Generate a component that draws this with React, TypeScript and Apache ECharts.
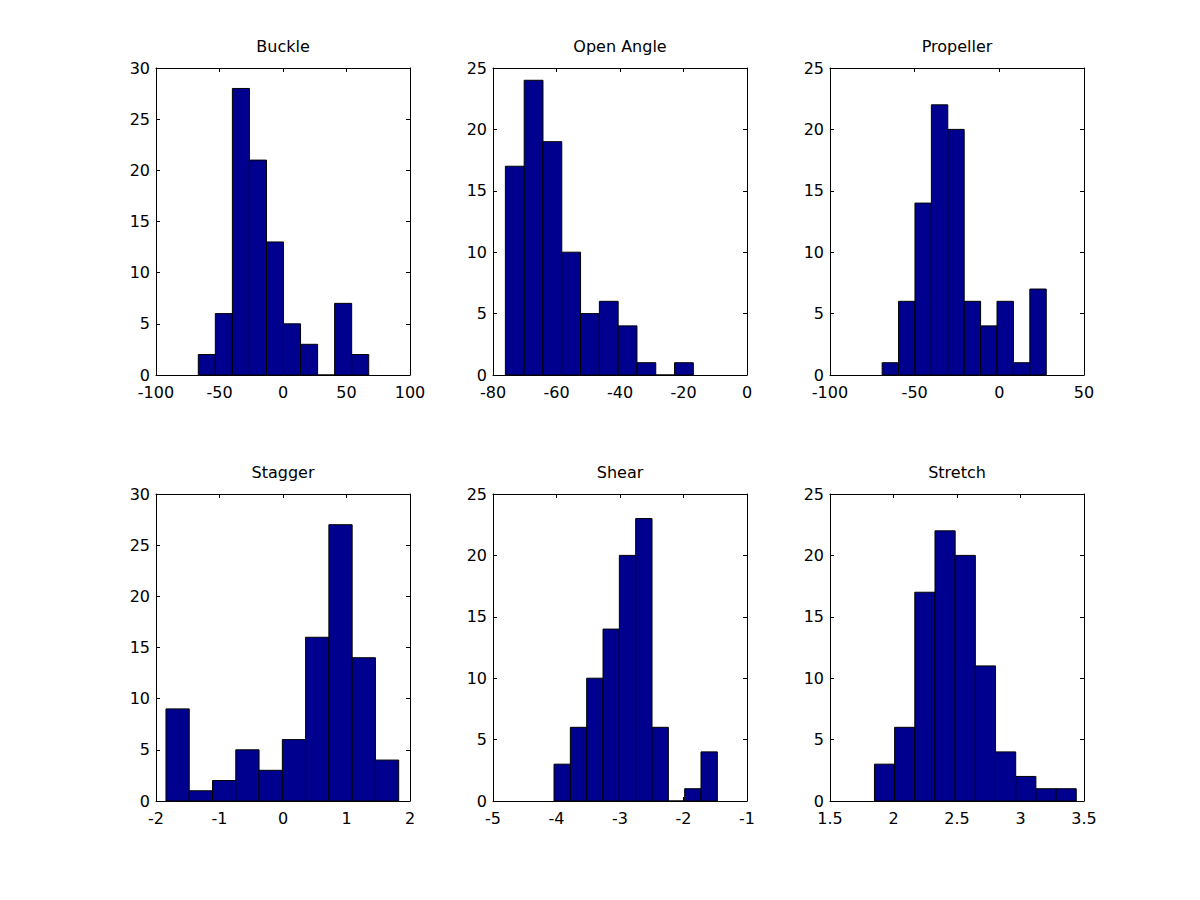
import React, { useEffect, useRef } from "react";
import * as echarts from "echarts";

const titles = ["Buckle", "Open Angle", "Propeller", "Stagger", "Shear", "Stretch"];

const buckleCounts = [2, 6, 28, 21, 13, 5, 3, 0, 7, 2];
const openAngleCounts = [17, 24, 19, 10, 5, 6, 4, 1, 0, 1];
const propellerCounts = [1, 6, 14, 22, 20, 6, 4, 6, 1, 7];
const staggerCounts = [9, 1, 2, 5, 3, 6, 16, 27, 14, 4];
const shearCounts = [3, 6, 10, 14, 20, 23, 6, 0, 1, 4];
const stretchCounts = [3, 6, 17, 22, 20, 11, 4, 2, 1, 1];

// data range (min, max) of each histogram; 10 equal bins in between
const buckleRange = [-66.7, 67.5];
const openAngleRange = [-76.1, -16.9];
const propellerRange = [-69.2, 27.7];
const staggerRange = [-1.843, 1.822];
const shearRange = [-4.039, -1.467];
const stretchRange = [1.85, 3.439];

// axis limits and tick steps
const xMins = [-100, -80, -100, -2, -5, 1.5];
const xMaxs = [100, 0, 50, 2, -1, 3.5];
const xSteps = [50, 20, 50, 1, 1, 0.5];
const yMaxs = [30, 25, 25, 30, 25, 25];
const ySteps = [5, 5, 5, 5, 5, 5];

const allCounts = [buckleCounts, openAngleCounts, propellerCounts, staggerCounts, shearCounts, stretchCounts];
const allRanges = [buckleRange, openAngleRange, propellerRange, staggerRange, shearRange, stretchRange];

const FONT = "'DejaVu Sans', 'Liberation Sans', Arial, sans-serif";

export default function App() {
  const ref = useRef<HTMLDivElement>(null);
  useEffect(() => {
    document.body.style.margin = "0";
    if (!ref.current) return;
    const chart = echarts.init(ref.current, undefined, { renderer: "svg" });

    const lefts = [156, 493, 830];
    const tops = [68, 494];
    const W = 254;
    const H = 307;

    const grids: any[] = [];
    const xAxes: any[] = [];
    const yAxes: any[] = [];
    const series: any[] = [];
    const titleOpts: any[] = [];
    const extraX: any[] = [];
    const extraY: any[] = [];

    for (let i = 0; i < 6; i++) {
      const col = i % 3;
      const row = Math.floor(i / 3);
      grids.push({ left: lefts[col], top: tops[row], width: W, height: H, containLabel: false });
      titleOpts.push({
        text: titles[i],
        left: lefts[col] + W / 2,
        textAlign: "center",
        top: tops[row] - 30,
        padding: 0,
        textStyle: { fontFamily: FONT, fontSize: 16, fontWeight: "normal", color: "#000" },
      });
      const axisCommon = {
        axisLine: { show: true, onZero: false, lineStyle: { color: "#000", width: 1 } },
        axisTick: { show: true, inside: true, length: 4, lineStyle: { color: "#000", width: 1 } },
        splitLine: { show: false },
      };
      xAxes.push({
        type: "value",
        gridIndex: i,
        position: "bottom",
        min: xMins[i],
        max: xMaxs[i],
        interval: xSteps[i],
        ...axisCommon,
        axisLabel: { color: "#000", fontFamily: FONT, fontSize: 16, lineHeight: 15, margin: 10 },
      });
      extraX.push({
        type: "value",
        gridIndex: i,
        position: "top",
        min: xMins[i],
        max: xMaxs[i],
        interval: xSteps[i],
        ...axisCommon,
        axisLabel: { show: false },
      });
      yAxes.push({
        type: "value",
        gridIndex: i,
        position: "left",
        min: 0,
        max: yMaxs[i],
        interval: ySteps[i],
        ...axisCommon,
        axisLabel: { color: "#000", fontFamily: FONT, fontSize: 16, lineHeight: 15, margin: 6 },
      });
      extraY.push({
        type: "value",
        gridIndex: i,
        position: "right",
        min: 0,
        max: yMaxs[i],
        interval: ySteps[i],
        ...axisCommon,
        axisLabel: { show: false },
      });

      const counts = allCounts[i];
      const [lo, hi] = allRanges[i];
      const w = (hi - lo) / counts.length;
      const data = counts.map((c, k) => [lo + k * w, lo + (k + 1) * w, c]);
      series.push({
        type: "custom",
        xAxisIndex: i,
        yAxisIndex: i,
        encode: { x: [0, 1], y: 2 },
        data,
        renderItem: (params: any, api: any) => {
          const p0 = api.coord([api.value(0), api.value(2)]);
          const p1 = api.coord([api.value(1), 0]);
          return {
            type: "rect",
            shape: { x: p0[0], y: p0[1], width: p1[0] - p0[0], height: p1[1] - p0[1] },
            style: { fill: "#00008F", stroke: "#000", lineWidth: 1 },
          };
        },
      });
    }

    chart.setOption({
      animation: false,
      backgroundColor: "#fff",
      title: titleOpts,
      grid: grids,
      xAxis: [...xAxes, ...extraX],
      yAxis: [...yAxes, ...extraY],
      series,
    });
    return () => chart.dispose();
  }, []);
  return <div ref={ref} style={{ width: 1200, height: 900 }} />;
}
